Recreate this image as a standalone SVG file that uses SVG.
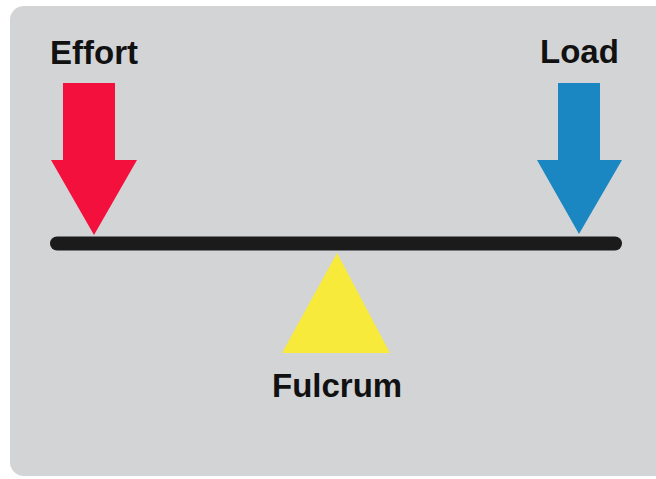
<svg xmlns="http://www.w3.org/2000/svg" width="656" height="479" viewBox="0 0 656 479">
<style>
.lbl{font-family:"Liberation Sans",Arial,sans-serif;font-weight:bold;font-size:33px;fill:#111}
</style>
<rect width="656" height="479" fill="#ffffff"/>
<rect x="10" y="6" width="660" height="470" rx="14" fill="#d3d4d6"/>
<g id="lever">
<line x1="57" y1="243.5" x2="615" y2="243.5" stroke="#1b1b1b" stroke-width="14" stroke-linecap="round"/>
</g>
<g id="effort">
<polygon points="63,83 115,83 115,160 137,160 94,235 51,160 63,160" fill="#f4103d"/>
<text class="lbl" x="50" y="64">Effort</text>
</g>
<g id="load">
<polygon points="558,83 600,83 600,160 622,160 579,234 537,160 558,160" fill="#1a87c2"/>
<text class="lbl" x="540" y="63">Load</text>
</g>
<g id="fulcrum">
<polygon points="337,253 390,353 282,353" fill="#f8ea3a"/>
<text class="lbl" x="272" y="397">Fulcrum</text>
</g>
<g id="connectors"/>
</svg>
